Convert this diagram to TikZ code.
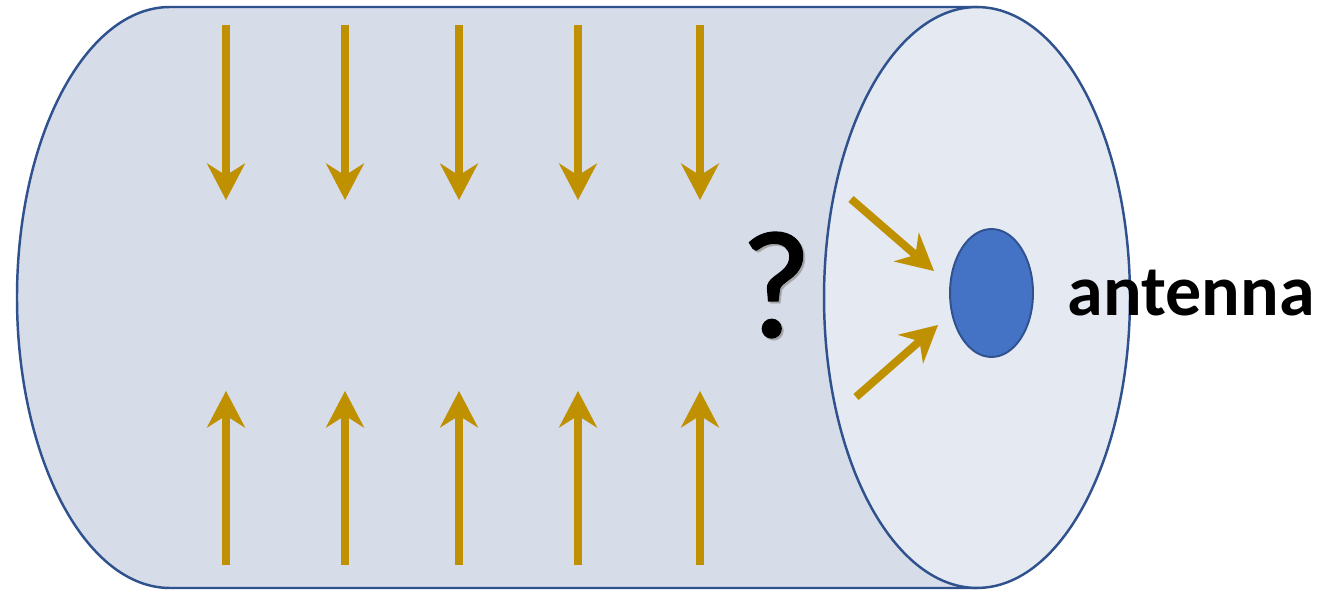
\documentclass[tikz,border=0pt]{standalone}
\usepackage{fontspec}
\setmainfont{Carlito}
\newfontfamily\qfont{Carlito}[FakeBold=1.2]
\usetikzlibrary{positioning, calc, shapes.geometric, arrows.meta}
\definecolor{rimblue}{HTML}{2F528F}
\definecolor{bodyfill}{HTML}{D6DCE8}
\definecolor{facefill}{HTML}{E4E9F2}
\definecolor{antblue}{HTML}{4472C4}
\definecolor{fieldgold}{HTML}{BF9000}

\begin{document}
\begin{tikzpicture}[
				x=0.02cm, y=0.02cm,
				field/.style = {draw=fieldgold, line width=4.5pt, -{Stealth[length=21pt, width=22pt, inset=7pt, line width=0pt]}},
				face/.style = {ellipse, draw=rimblue, line width=1.4pt, fill=facefill, inner sep=0pt, minimum width=6.12cm, minimum height=11.62cm},
				antenna/.style = {ellipse, draw=rimblue, line width=1.1pt, fill=antblue, inner sep=0pt, minimum width=1.66cm, minimum height=2.56cm},
			]
			\useasboundingbox (0,0) rectangle (1327,589);

			% side of the tube
			\filldraw[fill=bodyfill, draw=rimblue, line width=1.4pt]
				(170,582) -- (977,582) -- (977,1) -- (170,1)
				arc[start angle=270, end angle=90, x radius=153, y radius=290.5] -- cycle;
			\node[face](end) at (977,291.5){};
			\node[antenna](ant) at (991.5,296){};
			\node[right=0.55cm of ant, font=\bfseries\fontsize{41}{46}\selectfont](lbl){antenna};

			\node[text=black!45, opacity=0.5, font=\qfont\fontsize{87}{90}\selectfont](qs) at (778,302){?};
			\node[font=\qfont\fontsize{87}{90}\selectfont](q) at (776,304){?};

			\foreach \i/\x in {1/226, 2/345, 3/459, 4/578, 5/700} {
				\coordinate (dtop\i) at (\x,564);
				\coordinate (dtip\i) at (\x,389);
				\coordinate (ubot\i) at (\x,24);
				\coordinate (utip\i) at (\x,198);
				\draw[field](dtop\i)--(dtip\i);
				\draw[field](ubot\i)--(utip\i);
			}

			\coordinate (inA) at (851,390);
			\coordinate (inB) at (856,192);
			\coordinate (hitA) at (934,318);
			\coordinate (hitB) at (938,264);
			\draw[field](inA)--(hitA);
			\draw[field](inB)--(hitB);

		\end{tikzpicture}
\end{document}
